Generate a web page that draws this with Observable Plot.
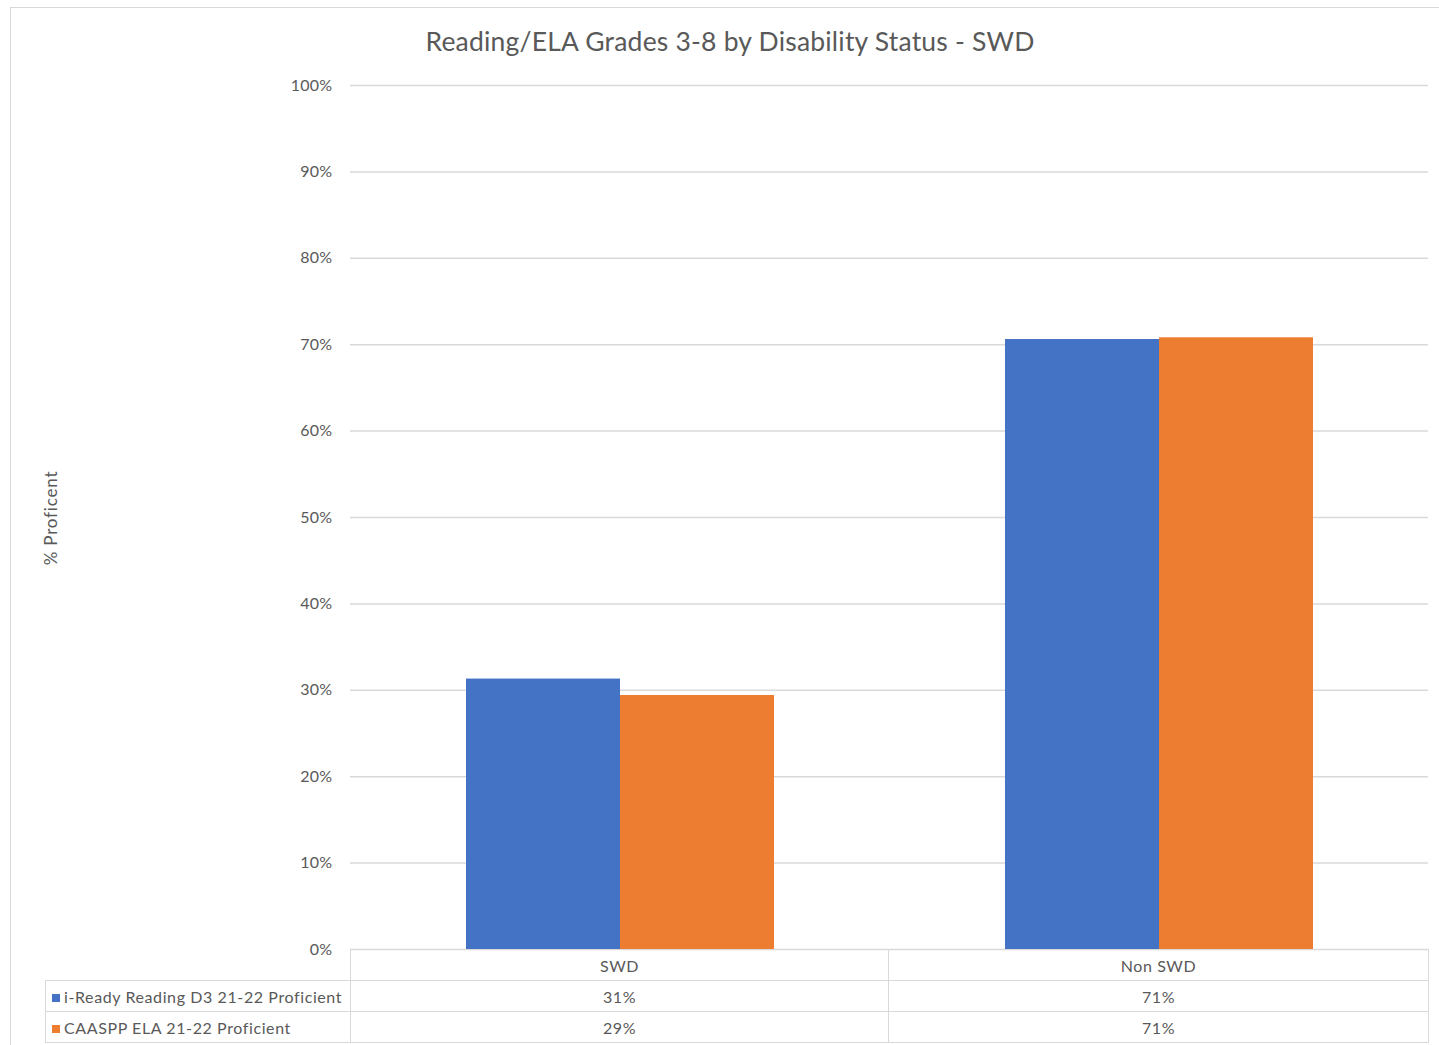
<!DOCTYPE html>
<html><head><meta charset="utf-8">
<script src="https://cdn.jsdelivr.net/npm/d3@7"></script>
<script src="https://cdn.jsdelivr.net/npm/@observablehq/plot@0.6"></script>
<style>
body{margin:0;background:#fff;font-family:Lato,"Open Sans",sans-serif;width:1439px;height:1045px;overflow:hidden;position:relative;}
#frame{position:absolute;left:10px;top:7px;width:1440px;height:1050px;border:1.5px solid #d9d9d9;box-sizing:border-box;}
#title{position:absolute;left:0;width:1460px;top:23px;text-align:center;font-size:26.5px;color:#595959;line-height:36px;letter-spacing:0.2px;}
#chart{position:absolute;left:0;top:60px;}
#ylabel{position:absolute;left:50px;top:518px;transform:translate(-50%,-50%) rotate(-90deg);font-size:17px;letter-spacing:0.8px;color:#595959;white-space:nowrap;}
#tbl{position:absolute;left:45px;top:949px;border-collapse:collapse;table-layout:fixed;font-size:16px;letter-spacing:0.6px;color:#595959;}
#tbl td{border:1.5px solid #d9d9d9;padding:0;text-align:center;height:30px;white-space:nowrap;overflow:hidden;}
#tbl td.lab{text-align:left;padding-left:6px;}
#tbl td.blank{border-top:none;border-left:none;}
.sw{display:inline-block;width:8px;height:8px;margin-right:4px;vertical-align:1px;}
#chart svg text{letter-spacing:0.3px;}
</style>
</head><body>
<div id="frame"></div>
<div id="title"></div>
<div id="ylabel"></div>
<div id="chart"></div>
<table id="tbl"></table>
<script>
const titleText = "Reading/ELA Grades 3-8 by Disability Status - SWD";
const yLabel = "% Proficent";
const categories = ["SWD", "Non SWD"];
const series = ["i-Ready Reading D3 21-22 Proficient", "CAASPP ELA 21-22 Proficient"];
const iReadyValues = [0.313, 0.706];
const caasppValues = [0.294, 0.708];
const yTicks = [0, 0.1, 0.2, 0.3, 0.4, 0.5, 0.6, 0.7, 0.8, 0.9, 1.0];
const seriesColors = ["#4472c4", "#ed7d31"];

const valuesBySeries = [iReadyValues, caasppValues];
const data = categories.flatMap((c, i) => series.map((s, j) => ({category: c, series: s, value: valuesBySeries[j][i]})));
const pct = d3.format(".0%");

document.getElementById("title").textContent = titleText;
document.getElementById("ylabel").textContent = yLabel;

const chart = Plot.plot({
  width: 1439,
  height: 899,
  marginLeft: 350,
  marginRight: 11,
  marginTop: 25,
  marginBottom: 10,
  style: {fontFamily: "Lato, 'Open Sans', sans-serif", fontSize: "16px", color: "#595959", background: "transparent"},
  fx: {domain: categories, padding: 0, axis: null},
  x: {domain: series, paddingInner: 0, paddingOuter: 0.75, axis: null},
  y: {domain: [0, 1]},
  color: {domain: series, range: seriesColors},
  marks: [
    Plot.ruleY(yTicks, {stroke: "#d9d9d9", strokeWidth: 1.5}),
    Plot.axisY({ticks: yTicks, tickSize: 0, tickPadding: 18, tickFormat: pct, label: null, fill: "#595959"}),
    Plot.barY(data, {fx: "category", x: "series", y: "value", fill: "series"})
  ]
});
document.getElementById("chart").appendChild(chart);

// data table below the chart
const tbl = document.getElementById("tbl");
const colW = [305, 538, 540];
const cg = document.createElement("colgroup");
colW.forEach(w => { const c = document.createElement("col"); c.style.width = w + "px"; cg.appendChild(c); });
tbl.appendChild(cg);
const hr = document.createElement("tr");
const blank = document.createElement("td"); blank.className = "blank"; hr.appendChild(blank);
categories.forEach(c => { const td = document.createElement("td"); td.textContent = c; hr.appendChild(td); });
tbl.appendChild(hr);
series.forEach((s, j) => {
  const tr = document.createElement("tr");
  const lab = document.createElement("td"); lab.className = "lab";
  const sw = document.createElement("span"); sw.className = "sw"; sw.style.background = seriesColors[j];
  lab.appendChild(sw); lab.appendChild(document.createTextNode(s));
  tr.appendChild(lab);
  categories.forEach((c, i) => { const td = document.createElement("td"); td.textContent = pct(valuesBySeries[j][i]); tr.appendChild(td); });
  tbl.appendChild(tr);
});
</script>
</body></html>
